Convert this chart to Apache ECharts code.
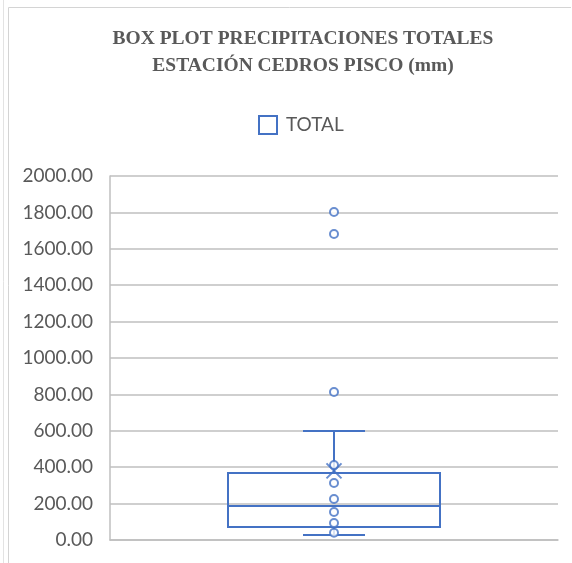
<!DOCTYPE html>
<html lang="es">
  <head>
    <meta charset="UTF-8" />
    <title>Box plot precipitaciones</title>
    <style>
      body {
        margin: 0;
        overflow: hidden;
        background: #fff;
      }
    </style>
    <script src="https://cdn.jsdelivr.net/npm/echarts@6/dist/echarts.min.js"></script>
  </head>

  <body>
    <div id="chart" style="width: 572px; height: 563px"></div>
    <script>
      // datos
      var categories = ["TOTAL"];
      var boxStats = [28, 71, 187, 368, 599]; // min, Q1, mediana, Q3, max
      var meanValue = 380;
      var innerPoints = [40, 93, 154, 225, 313, 412];
      var outliers = [813, 1681, 1802];
      var yTicks = { min: 0, max: 2000, interval: 200 };

      var blue = "#4472C4";
      var grey = "#595959";

      var chart = echarts.init(document.getElementById("chart"));

      // caja y bigotes dibujados con las escalas del eje
      function renderBox(params, api) {
        var cat = api.value(0);
        var pMin = api.coord([cat, api.value(1)]);
        var pQ1 = api.coord([cat, api.value(2)]);
        var pMed = api.coord([cat, api.value(3)]);
        var pQ3 = api.coord([cat, api.value(4)]);
        var pMax = api.coord([cat, api.value(5)]);
        var cx = pMed[0];
        var halfBox = 106;
        var halfCap = 31;
        var st = { stroke: blue, lineWidth: 2, fill: null };
        return {
          type: "group",
          children: [
            { type: "line", shape: { x1: cx, y1: pQ3[1], x2: cx, y2: pMax[1] }, style: st },
            { type: "line", shape: { x1: cx - halfCap, y1: pMax[1], x2: cx + halfCap, y2: pMax[1] }, style: st },
            { type: "line", shape: { x1: cx, y1: pQ1[1], x2: cx, y2: pMin[1] }, style: st },
            { type: "line", shape: { x1: cx - halfCap, y1: pMin[1], x2: cx + halfCap, y2: pMin[1] }, style: st },
            {
              type: "rect",
              shape: { x: cx - halfBox, y: pQ3[1], width: halfBox * 2, height: pQ1[1] - pQ3[1] },
              style: st,
            },
            { type: "line", shape: { x1: cx - halfBox, y1: pMed[1], x2: cx + halfBox, y2: pMed[1] }, style: st },
          ],
        };
      }

      var pointStyle = { color: "#fff", borderColor: blue, borderWidth: 2 };

      var option = {
        animation: false,
        graphic: [
          { type: "line", shape: { x1: 3.5, y1: 0, x2: 3.5, y2: 563 }, style: { stroke: "#e3e3e3", lineWidth: 1 } },
          { type: "line", shape: { x1: 8.5, y1: 7.5, x2: 8.5, y2: 563 }, style: { stroke: "#d4d4d4", lineWidth: 1 } },
          { type: "line", shape: { x1: 8.5, y1: 7.5, x2: 571, y2: 7.5 }, style: { stroke: "#d4d4d4", lineWidth: 1 } },
        ],
        title: {
          text: "BOX PLOT PRECIPITACIONES TOTALES\nESTACIÓN CEDROS PISCO (mm)",
          left: 298,
          top: 20,
          textAlign: "center",
          textStyle: {
            fontFamily: "Liberation Serif",
            fontWeight: "bold",
            fontSize: 19.5,
            lineHeight: 27,
            color: grey,
          },
        },
        legend: {
          data: [
            {
              name: "TOTAL",
              icon: "rect",
              itemStyle: { color: "#fff", borderColor: blue, borderWidth: 2 },
            },
          ],
          left: 253,
          top: 110,
          itemWidth: 18,
          itemHeight: 18,
          textStyle: { fontFamily: "Lato", fontSize: 19, color: grey, padding: [0, 0, 0, 4] },
        },
        grid: { left: 110, right: 14, top: 176, bottom: 23 },
        xAxis: {
          type: "category",
          data: categories,
          axisLine: { lineStyle: { color: "#bfbfbf", width: 1.5 } },
          axisTick: { show: false },
          axisLabel: { show: false },
        },
        yAxis: {
          type: "value",
          min: yTicks.min,
          max: yTicks.max,
          interval: yTicks.interval,
          axisLine: { show: true, lineStyle: { color: "#bfbfbf", width: 1.5 } },
          axisTick: { show: false },
          splitLine: { lineStyle: { color: "#bfbfbf", width: 1.5 } },
          axisLabel: {
            margin: 17,
            fontFamily: "Lato",
            fontSize: 19,
            color: grey,
            formatter: function (v) {
              return v.toFixed(2);
            },
          },
        },
        series: [
          {
            name: "TOTAL",
            type: "custom",
            renderItem: renderBox,
            data: [[0].concat(boxStats)],
            encode: { x: 0, y: [1, 2, 3, 4, 5] },
            z: 2,
          },
          {
            name: "puntos",
            type: "scatter",
            symbol: "circle",
            symbolSize: 8,
            itemStyle: pointStyle,
            data: innerPoints.concat(outliers).map(function (v) {
              return [0, v];
            }),
            z: 3,
          },
          {
            name: "media",
            type: "scatter",
            symbol: "path://M0,0L10,10M10,0L0,10",
            symbolSize: 15,
            itemStyle: { color: "none", borderColor: blue, borderWidth: 2 },
            data: [[0, meanValue]],
            z: 4,
          },
        ],
      };

      chart.setOption(option);
    </script>
  </body>
</html>
